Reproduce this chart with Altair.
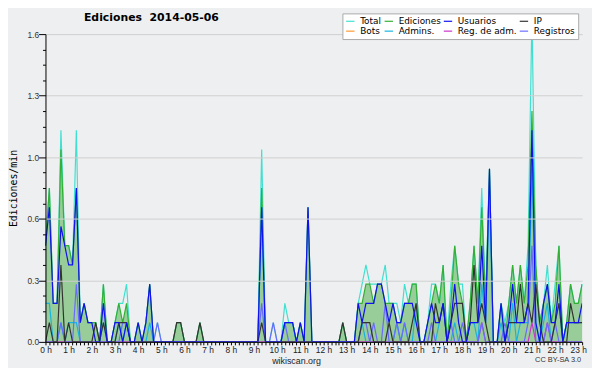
import altair as alt
import pandas as pd

title_text = "Ediciones \u00a02014-05-06"
y_title = "Ediciones/min"
x_title = "wikiscan.org"
cc_text = "CC BY-SA 3.0"

series_order = ["Total", "Ediciones", "Usuarios", "IP", "Bots", "Admins.", "Reg. de adm.", "Registros"]
series_colors = ["#40e0d0", "#33b033", "#1010f0", "#333333", "#ff9933", "#18b4e0", "#cc33cc", "#6a6aff"]
draw_order = ["Total", "Ediciones", "Admins.", "Reg. de adm.", "Registros", "IP", "Usuarios"]

# 10-minute bins, 00:00 .. 23:10
minutes = list(range(0, 1400, 10))

y_ticks = [0.0, 0.08, 0.16, 0.24, 0.32, 0.40, 0.48, 0.56, 0.64, 0.72, 0.80,
           0.88, 0.96, 1.04, 1.12, 1.20, 1.28, 1.36, 1.44, 1.52, 1.60]

total = [
    .5, .8, .2, .2, 1.1, .5,   .5, .4, 1.1, .1, .2, .1,   .1, .1, 0, .3, 0, 0,
    .1, .2, .2, .3, 0, 0,      .1, 0, .1, .3, 0, .1,      0, 0, 0, 0, .1, .1,
    0, 0, 0, 0, .1, 0,         0, 0, 0, 0, 0, 0,          0, 0, 0, 0, 0, 0,
    0, 0, 1.0, 0, 0, .1,       0, 0, .2, .1, .1, 0,       .1, 0, .7, 0, 0, 0,
    0, 0, 0, 0, 0, .1,         0, 0, 0, .2, .3, .4,       .3, .3, .3, .3, .4, .2,
    .2, .2, .1, .3, .2, .3,    .3, 0, 0, .1, .3, .3,      .2, .4, 0, .3, .5, .3,
    .3, 0, .2, .5, .2, .8,     .2, .9, 0, 0, .2, .1,      .2, .4, .2, .4, .2, .5,
    1.7, .4, .1, .2, .4, .1,   .3, .5, 0, .1, .3, .2,     .2, .3,
]
ediciones = [
    .5, .8, .2, .2, 1.0, .5,   .5, .4, .8, .1, .2, .1,    .1, .1, 0, .3, 0, 0,
    .1, .2, .1, .2, 0, 0,      .1, 0, .1, .3, 0, 0,       0, 0, 0, 0, .1, .1,
    0, 0, 0, 0, .1, 0,         0, 0, 0, 0, 0, 0,          0, 0, 0, 0, 0, 0,
    0, 0, .8, 0, 0, 0,         0, 0, .1, .1, .1, 0,       .1, 0, .7, 0, 0, 0,
    0, 0, 0, 0, 0, .1,         0, 0, 0, .2, .2, .3,       .3, .2, .3, .3, .2, .2,
    .2, .1, .1, .2, .2, .3,    .3, 0, 0, .1, .2, .3,      .2, .4, 0, .2, .5, .3,
    .2, 0, .2, .5, .2, .7,     .2, .9, 0, 0, .2, 0,       .2, .4, .2, .4, .2, .4,
    1.2, .4, .1, .2, .3, .1,   .2, .5, 0, .1, .3, .2,     .2, .3,
]
usuarios = [
    .5, .7, .2, .2, .6, .5,    .4, .4, .8, .1, .2, .1,    .1, 0, 0, .2, 0, 0,
    .1, .1, 0, .1, 0, 0,       .1, 0, .1, .3, 0, 0,       0, 0, 0, 0, 0, 0,
    0, 0, 0, 0, 0, 0,          0, 0, 0, 0, 0, 0,          0, 0, 0, 0, 0, 0,
    0, 0, .7, 0, 0, 0,         0, 0, .1, .1, .1, 0,       .1, 0, .7, 0, 0, 0,
    0, 0, 0, 0, 0, 0,          0, 0, 0, .2, .1, .2,       .2, .2, .3, .3, .2, .1,
    .2, .1, .1, .2, .2, .2,    .1, 0, 0, .1, .2, .1,      .1, .2, 0, .1, .3, .1,
    0, 0, .1, .1, .1, .5,      .1, .9, 0, 0, .2, 0,       .1, .3, .1, .1, .1, .2,
    1.1, .1, 0, .2, .3, .1,    .1, .3, 0, .1, .1, .1,     .1, .2,
]
ip = [
    0, .1, 0, 0, .4, 0,        .1, 0, 0, 0, 0, 0,         0, .1, 0, .1, 0, 0,
    0, .1, .1, .1, 0, 0,       0, 0, 0, 0, 0, 0,          0, 0, 0, 0, .1, .1,
    0, 0, 0, 0, .1, 0,         0, 0, 0, 0, 0, 0,          0, 0, 0, 0, 0, 0,
    0, 0, .1, 0, 0, 0,         0, 0, 0, 0, 0, 0,          0, 0, 0, 0, 0, 0,
    0, 0, 0, 0, 0, .1,         0, 0, 0, 0, .1, .1,        .1, 0, 0, 0, 0, .1,
    0, 0, 0, 0, 0, .1,         .2, 0, 0, 0, 0, .2,        .1, .2, 0, .1, .2, .2,
    .2, 0, .1, .4, .1, .2,     .1, 0, 0, 0, 0, 0,         .1, .1, .1, .3, .1, .2,
    .1, .3, .1, 0, 0, 0,       .1, .2, 0, 0, .2, .1,      .1, .1,
]
admins = [
    .2, .2, 0, 0, .1, 0,       .1, .1, .1, 0, 0, 0,       0, 0, 0, .1, 0, 0,
    0, .1, 0, .1, 0, 0,        0, 0, 0, .1, 0, 0,         0, 0, 0, 0, 0, 0,
    0, 0, 0, 0, 0, 0,          0, 0, 0, 0, 0, 0,          0, 0, 0, 0, 0, 0,
    0, 0, .7, 0, 0, 0,         0, 0, .1, .1, .1, 0,       0, 0, 0, 0, 0, 0,
    0, 0, 0, 0, 0, 0,          0, 0, 0, 0, .1, 0,         0, 0, 0, 0, 0, 0,
    0, .1, 0, .1, 0, 0,        .2, 0, 0, 0, 0, 0,         .1, .2, 0, 0, .1, 0,
    0, 0, .1, .1, 0, .3,       .1, .8, 0, 0, .1, 0,       0, .2, 0, .1, .1, .1,
    .9, .1, 0, .1, .2, 0,      .1, .2, 0, .1, .1, .1,     .1, .1,
]
registros = [
    0, 0, 0, 0, .1, 0,         0, 0, .3, 0, 0, 0,         0, 0, 0, 0, 0, 0,
    0, 0, .1, .1, 0, 0,        0, 0, 0, 0, 0, .1,         0, 0, 0, 0, 0, 0,
    0, 0, 0, 0, 0, 0,          0, 0, 0, 0, 0, 0,          0, 0, 0, 0, 0, 0,
    0, 0, .2, 0, 0, .1,        0, 0, .1, 0, 0, 0,         0, 0, 0, 0, 0, 0,
    0, 0, 0, 0, 0, 0,          0, 0, 0, 0, .1, .1,        0, .1, 0, 0, .2, 0,
    0, .1, 0, .1, 0, 0,        0, 0, 0, 0, .1, 0,         0, 0, 0, .1, 0, 0,
    .1, 0, 0, 0, 0, .1,        0, 0, 0, 0, 0, .1,         0, 0, 0, 0, 0, .1,
    .5, 0, 0, 0, .1, 0,        .1, 0, 0, 0, 0, 0,         0, 0,
]
reg_adm = [0] * 140
reg_adm_spikes = {113: .1, 126: .1, 130: .1}
for k, v in reg_adm_spikes.items():
    reg_adm[k] = v

series_values = {
    "Total": total, "Ediciones": ediciones, "Usuarios": usuarios, "IP": ip,
    "Admins.": admins, "Reg. de adm.": reg_adm, "Registros": registros,
}

hours = [m / 60 for m in minutes]
rows = []
for name in draw_order:
    for h, v in zip(hours, series_values[name]):
        rows.append({"h": h, "v": v, "serie": name})
df = pd.DataFrame(rows)
df_area = pd.DataFrame({"h": hours, "v": ediciones})

major = "abs(datum.value/0.32 - round(datum.value/0.32)) < 0.01"
hour_test = "abs(datum.value - round(datum.value)) < 0.01"

x_axis = alt.Axis(
    values=hours, labelExpr=f"{hour_test} ? round(datum.value) + ' h' : ''",
    labelOverlap=False, labelFlush=False, tickSize=3, tickColor="black",
    domainColor="black", labelFont="Liberation Sans", labelFontSize=8.5,
    labelColor="#222222", labelPadding=1, grid=False, title=x_title,
    titleFont="Liberation Sans", titleFontSize=9, titleFontWeight="normal",
    titleColor="#222222", titleX=254, titleY=19, titleBaseline="middle",
    titleAlign="center", zindex=1,
)
y_axis = alt.Axis(
    values=y_ticks, labelExpr=f"{major} ? format(datum.value, '.1f') : ''",
    labelOverlap=False, labelFlush=False, grid=True, gridColor="#cfcfcf",
    gridOpacity={"condition": {"test": major, "value": 1}, "value": 0},
    tickSize={"condition": {"test": major, "value": 7}, "value": 3},
    tickColor="black", domainColor="black", labelFont="Liberation Sans",
    labelFontSize=8.5, labelColor="#333333", labelPadding=0,
    title=y_title, titleFont="DejaVu Sans Mono", titleFontSize=10,
    titleFontWeight="normal", titleColor="black", titleX=-32, titleY=156,
    titleAngle=-90, titleAlign="center", titleBaseline="middle", zindex=1,
)

x_enc = alt.X("h:Q", scale=alt.Scale(domain=[0, minutes[-1] / 60], nice=False, zero=False), axis=x_axis)
y_enc = alt.Y("v:Q", scale=alt.Scale(domain=[0, 1.6], nice=False), axis=y_axis)
color_enc = alt.Color(
    "serie:N",
    scale=alt.Scale(domain=series_order, range=series_colors),
    legend=alt.Legend(
        title=None, orient="none", legendX=301, legendY=-21, columns=4,
        direction="horizontal", symbolType="stroke", symbolSize=72,
        symbolStrokeWidth=1.2, labelFont="DejaVu Sans", labelFontSize=9,
        labelColor="black", labelOffset=5, columnPadding=0, rowPadding=0,
        padding=3, fillColor="white", strokeColor="#aaaaaa", zindex=2,
    ),
)

area = alt.Chart(df_area).mark_area(color="#98cc98").encode(x=x_enc, y=y_enc)

layers = [area]
for name in draw_order:
    layers.append(
        alt.Chart(df)
        .transform_filter(alt.datum.serie == name)
        .mark_line(strokeWidth=1.2, clip=(name != "Total"))
        .encode(x=x_enc, y=y_enc, color=color_enc)
    )

cc = alt.Chart(pd.DataFrame({"txt": [cc_text]})).mark_text(
    align="right", baseline="middle", fontSize=7.5, font="Liberation Sans", color="#333333"
).encode(x=alt.value(543), y=alt.value(330), text="txt:N")
layers.append(cc)

chart = alt.layer(*layers).properties(
    width=544, height=312, background="#eeeff1",
    padding={"left": 38, "top": 24, "right": 10, "bottom": 24},
    autosize=alt.AutoSizeParams(type="none"),
    title=alt.TitleParams(
        text=title_text, anchor="start", frame="group", dx=39, offset=0, dy=20,
        baseline="alphabetic", font="DejaVu Sans", fontSize=11,
        fontWeight="bold", color="black",
    ),
).configure_view(stroke=None)

chart.save("out.html", embed_options={"renderer": "svg", "actions": False})
